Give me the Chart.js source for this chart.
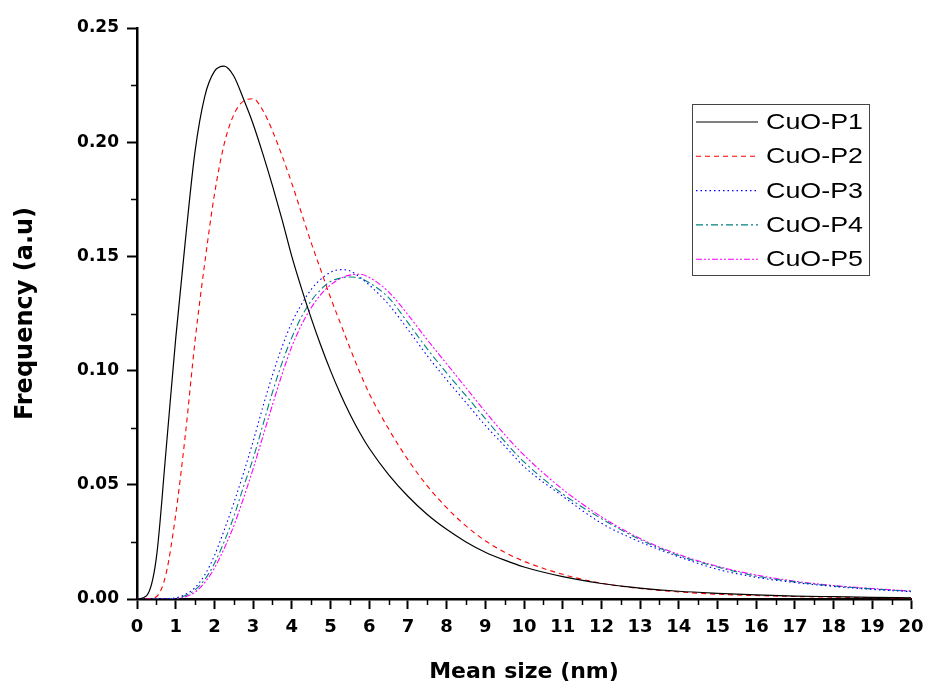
<!DOCTYPE html>
<html>
<head>
<meta charset="utf-8">
<title>CuO particle size distribution</title>
<script src="https://cdn.jsdelivr.net/npm/chart.js@4.4.1/dist/chart.umd.min.js"></script>
<style>
    html, body { margin: 0; padding: 0; background: #FFFFFF; }
    #sizeChart { display: block; }
</style>
</head>
<body>
<canvas id="sizeChart" width="928" height="688"></canvas>
<script>
// --- DATA ---
const sizes = [0, 0.25, 0.5, 0.75, 1, 1.25, 1.5, 1.75, 2, 2.25, 2.5, 2.75, 3, 3.25, 3.5, 3.75, 4, 4.25, 4.5, 4.75, 5, 5.25, 5.5, 5.75, 6,
    6.5, 7, 7.5, 8, 8.5, 9, 9.5, 10,
    11, 12, 13, 14, 15, 16, 17, 18, 19, 20];

const cuoP1 = [0, 0.0015, 0.018, 0.065, 0.114, 0.157, 0.196, 0.220, 0.231, 0.2333, 0.229, 0.219, 0.208, 0.195, 0.181, 0.166, 0.150, 0.136, 0.123, 0.111, 0.100, 0.090, 0.081, 0.073, 0.066,
    0.0545, 0.045, 0.037, 0.0305, 0.025, 0.0205, 0.017, 0.014,
    0.0098, 0.0068, 0.0048, 0.0034, 0.0025, 0.0018, 0.0013, 0.0010, 0.0007, 0.0005];

const cuoP2 = [0, 0, 0.001, 0.011, 0.037, 0.072, 0.113, 0.147, 0.177, 0.199, 0.212, 0.218, 0.219, 0.214, 0.205, 0.194, 0.182, 0.169, 0.156, 0.144, 0.132, 0.121, 0.110, 0.0995, 0.090,
    0.0745, 0.061, 0.0495, 0.040, 0.032, 0.0255, 0.0205, 0.0165,
    0.0108, 0.0069, 0.0046, 0.0031, 0.0021, 0.0015, 0.0011, 0.0008, 0.0006, 0.0004];

const cuoP3 = [0, 0, 0, 0.0001, 0.0005, 0.002, 0.005, 0.0105, 0.019, 0.030, 0.042, 0.055, 0.069, 0.084, 0.098, 0.1105, 0.121, 0.129, 0.1355, 0.140, 0.143, 0.1442, 0.1437, 0.141, 0.1375,
    0.129, 0.118, 0.1065, 0.096, 0.086, 0.076, 0.067, 0.058,
    0.045, 0.0332, 0.025, 0.0185, 0.013, 0.0095, 0.0072, 0.0055, 0.0042, 0.0032];

const cuoP4 = [0, 0, 0, 0, 0.0003, 0.0015, 0.004, 0.0085, 0.0155, 0.025, 0.036, 0.049, 0.0615, 0.076, 0.0905, 0.1035, 0.1145, 0.1235, 0.1305, 0.1355, 0.139, 0.1405, 0.141, 0.1405, 0.1385,
    0.132, 0.121, 0.1095, 0.099, 0.089, 0.079, 0.069, 0.060,
    0.046, 0.0352, 0.026, 0.019, 0.014, 0.010, 0.0075, 0.0057, 0.0044, 0.0034];

const cuoP5 = [0, 0, 0, 0, 0.0002, 0.001, 0.003, 0.0072, 0.0135, 0.022, 0.032, 0.044, 0.057, 0.071, 0.085, 0.0985, 0.1105, 0.120, 0.1275, 0.1333, 0.1375, 0.1403, 0.1418, 0.1422, 0.1408,
    0.1345, 0.1245, 0.1135, 0.103, 0.0925, 0.082, 0.072, 0.063,
    0.048, 0.036, 0.0265, 0.0195, 0.0143, 0.0105, 0.0078, 0.0059, 0.0046, 0.0035];

const seriesNames = ['CuO-P1', 'CuO-P2', 'CuO-P3', 'CuO-P4', 'CuO-P5'];
const seriesValues = [cuoP1, cuoP2, cuoP3, cuoP4, cuoP5];
const seriesColors = ['#000000', '#FF0000', '#0000FF', '#008080', '#FF00FF'];
const seriesDashes = [[], [5, 4], [1.5, 3], [7, 3, 2, 3], [6, 2, 2, 2, 2, 2]];

const yTicks = [0, 0.05, 0.10, 0.15, 0.20, 0.25];

function toPoints(values) {
    return values.map((v, i) => ({ x: sizes[i], y: v }));
}

// --- MINOR TICKS + LEGEND BOX ---
const extrasPlugin = {
    id: 'extras',
    afterDraw(chart) {
        const ctx = chart.ctx;
        const xs = chart.scales.x;
        const ys = chart.scales.y;
        const area = chart.chartArea;

        ctx.save();
        ctx.strokeStyle = '#000000';
        ctx.lineWidth = 1.5;
        ctx.beginPath();
        for (let v = 0.5; v < 20; v += 1) {
            const px = Math.round(xs.getPixelForValue(v)) + 0.5;
            ctx.moveTo(px, area.bottom);
            ctx.lineTo(px, area.bottom + 6);
        }
        for (let v = 0.025; v < 0.25; v += 0.05) {
            const py = Math.round(ys.getPixelForValue(v)) + 0.5;
            ctx.moveTo(area.left, py);
            ctx.lineTo(area.left - 6, py);
        }
        ctx.stroke();

        // custom legend, like the original plot
        const box = { left: 692.5, top: 104.5, width: 177, height: 171 };
        ctx.fillStyle = '#FFFFFF';
        ctx.fillRect(box.left, box.top, box.width, box.height);
        ctx.lineWidth = 1;
        ctx.strokeStyle = '#444444';
        ctx.strokeRect(box.left, box.top, box.width, box.height);

        ctx.font = '22px "Liberation Sans", Arial, sans-serif';
        ctx.textBaseline = 'middle';
        ctx.textAlign = 'left';
        chart.data.datasets.forEach((ds, i) => {
            const cy = 122 + i * 34.3;
            ctx.beginPath();
            ctx.setLineDash(ds.borderDash);
            ctx.strokeStyle = ds.borderColor;
            ctx.lineWidth = ds.borderWidth;
            ctx.moveTo(696, cy);
            ctx.lineTo(758, cy);
            ctx.stroke();
            ctx.setLineDash([]);
            // the original legend text is drawn a little wide
            ctx.save();
            ctx.translate(766, cy + 1);
            ctx.scale(1.22, 1);
            ctx.fillStyle = '#000000';
            ctx.fillText(ds.label, 0, 0);
            ctx.restore();
        });
        ctx.restore();
    }
};

// --- SIZE DISTRIBUTION CHART ---
const ctxSize = document.getElementById('sizeChart');
Chart.defaults.font.family = '"DejaVu Sans", sans-serif';
Chart.defaults.color = '#000000';

new Chart(ctxSize, {
    type: 'line',
    data: {
        datasets: seriesNames.map((name, i) => ({
            label: name,
            data: toPoints(seriesValues[i]),
            borderColor: seriesColors[i],
            borderWidth: i === 0 ? 1.2 : 1.1,
            borderDash: seriesDashes[i],
            pointRadius: 0,
            fill: false,
            cubicInterpolationMode: 'monotone'
        }))
    },
    options: {
        responsive: false,
        animation: false,
        devicePixelRatio: 1,
        layout: { padding: { top: 28, right: 17, left: 0, bottom: 0 } },
        plugins: {
            legend: { display: false },
            tooltip: { enabled: false }
        },
        scales: {
            x: {
                type: 'linear',
                min: 0,
                max: 20,
                border: { display: true, color: '#000000', width: 2.5 },
                grid: { drawOnChartArea: false, drawTicks: true, tickLength: 10, tickWidth: 2, tickColor: '#000000' },
                ticks: {
                    stepSize: 1,
                    autoSkip: false,
                    maxRotation: 0,
                    padding: 8,
                    font: { size: 18, weight: 'bold' }
                },
                title: {
                    display: true,
                    text: 'Mean size (nm)',
                    font: { size: 22, weight: 'bold' },
                    padding: { top: 0, bottom: 3 }
                },
                afterFit: function(scale) {
                    scale.height = 89;
                    scale.paddingLeft = 0;
                    scale.paddingRight = 0;
                }
            },
            y: {
                type: 'linear',
                min: 0,
                max: 0.25,
                border: { display: true, color: '#000000', width: 2.5 },
                grid: { drawOnChartArea: false, drawTicks: true, tickLength: 10, tickWidth: 2, tickColor: '#000000' },
                afterBuildTicks: function(scale) {
                    scale.ticks = yTicks.map(v => ({ value: v }));
                },
                ticks: {
                    padding: 8,
                    font: { size: 17, weight: 'bold' },
                    callback: function(value) { return value.toFixed(2); }
                },
                title: {
                    display: true,
                    text: 'Frequency (a.u)',
                    font: { size: 24, weight: 'bold' },
                    padding: { top: 11, bottom: 0 }
                },
                afterFit: function(scale) {
                    scale.width = 137;
                    scale.paddingTop = 0;
                    scale.paddingBottom = 0;
                }
            }
        }
    },
    plugins: [extrasPlugin]
});
</script>
</body>
</html>
